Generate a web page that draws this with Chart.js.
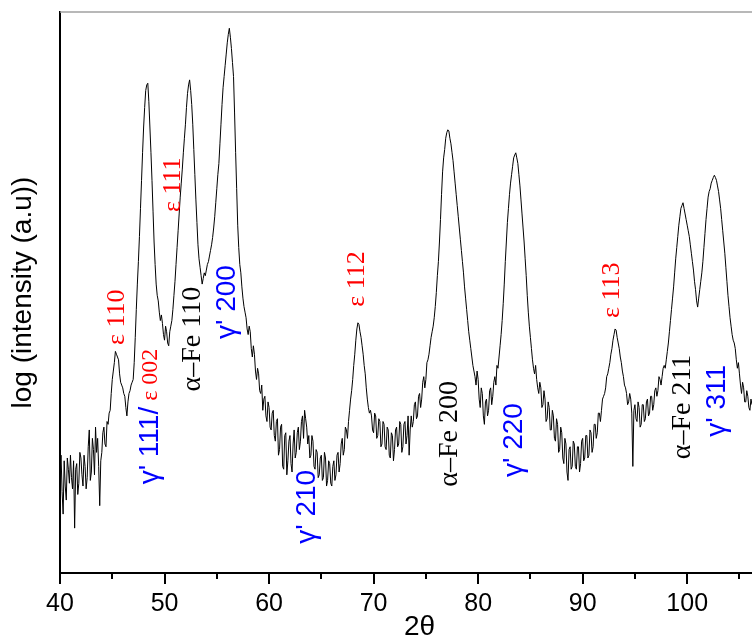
<!DOCTYPE html>
<html>
<head>
<meta charset="utf-8">
<script src="https://cdn.jsdelivr.net/npm/chart.js@4.4.0/dist/chart.umd.min.js"></script>
<style>
  html, body { margin: 0; padding: 0; background: #fff; }
  #wrap { width: 752px; height: 639px; }
</style>
</head>
<body>
<div id="wrap"><canvas id="myChart" width="752" height="639"></canvas></div>
<script>
// 2-theta scan, 40.0 .. 106.2 deg, 0.1 deg per point
var startAngle = 40;
var stepAngle = 0.1;

// log intensity (arbitrary units, 0..100 across the plot height)
// one row per degree
var intensity = [
  18.0, 21.0, 14.5, 10.5, 20.0, 15.5, 13.0, 20.5, 18.5, 16.0,   // 40
  21.0, 17.0, 15.0, 20.0, 8.0, 18.5, 19.5, 14.0, 16.0, 21.5,    // 41
  20.5, 17.5, 15.5, 21.0, 19.0, 15.0, 17.0, 22.5, 25.5, 16.5,   // 42
  18.0, 24.0, 22.0, 17.5, 26.0, 21.5, 24.0, 19.0, 12.0, 20.0,   // 43
  21.5, 25.0, 26.0, 23.0, 22.5, 27.0, 26.5, 28.5, 29.0, 32.0,   // 44
  34.5, 36.0, 37.5, 39.5, 39.0, 38.5, 38.0, 35.5, 34.0, 33.5,   // 45
  33.0, 32.0, 31.5, 29.5, 28.0, 30.5, 32.0, 32.5, 33.5, 34.0,   // 46
  34.5, 37.5, 42.0, 47.0, 51.5, 55.5, 60.0, 65.0, 70.0, 75.0,   // 47
  79.5, 83.0, 86.0, 87.0, 87.3, 84.0, 79.5, 75.0, 70.0, 64.5,   // 48
  59.0, 55.0, 51.5, 49.5, 48.5, 46.5, 45.0, 46.0, 44.5, 42.5,   // 49
  41.5, 44.0, 43.0, 41.0, 40.5, 43.0, 44.0, 45.0, 47.0, 49.5,   // 50
  52.0, 55.0, 58.0, 61.0, 64.0, 67.0, 69.5, 72.0, 74.9, 77.5,   // 51
  80.0, 83.0, 85.5, 87.0, 87.9, 86.0, 83.5, 80.0, 75.5, 71.0,   // 52
  66.5, 62.5, 58.5, 56.0, 54.5, 53.0, 51.5, 52.5, 53.5, 53.0,   // 53
  54.0, 55.0, 55.5, 56.5, 57.5, 58.5, 59.8, 61.5, 63.5, 66.0,   // 54
  68.5, 71.0, 73.0, 76.5, 80.0, 83.5, 86.5, 88.5, 90.5, 92.5,   // 55
  94.5, 96.0, 97.1, 95.5, 93.5, 91.0, 88.5, 82.0, 75.0, 68.5,   // 56
  62.0, 58.0, 55.0, 53.5, 51.0, 49.0, 47.5, 46.5, 45.5, 43.5,   // 57
  42.5, 44.0, 43.0, 40.0, 38.5, 40.5, 39.0, 36.0, 34.5, 36.5,   // 58
  35.5, 32.5, 32.0, 33.5, 29.0, 31.0, 31.5, 28.0, 27.0, 30.5,   // 59
  29.5, 26.0, 25.5, 28.5, 29.0, 24.5, 23.5, 27.0, 27.5, 21.0,   // 60
  22.0, 26.0, 26.5, 19.0, 18.5, 24.5, 25.0, 17.5, 20.0, 23.5,   // 61
  24.5, 19.5, 18.0, 23.0, 25.5, 20.5, 21.5, 25.0, 26.0, 22.0,   // 62
  23.5, 27.0, 28.0, 24.0, 29.0, 27.5, 26.0, 23.0, 24.5, 20.5,   // 63
  21.0, 24.5, 23.5, 19.0, 18.5, 22.0, 21.5, 17.0, 17.5, 20.5,   // 64
  21.0, 16.5, 17.0, 21.5, 20.5, 15.5, 16.5, 20.0, 19.5, 16.0,   // 65
  15.5, 19.0, 20.0, 16.5, 17.5, 21.0, 21.5, 18.0, 19.5, 23.0,   // 66
  24.0, 21.0, 22.0, 26.0, 25.5, 24.0, 27.0, 29.0, 31.0, 32.5,   // 67
  34.5, 37.0, 39.0, 41.5, 43.5, 44.6, 44.3, 43.0, 42.0, 40.5,   // 68
  39.0, 37.0, 35.5, 33.0, 31.0, 29.5, 28.5, 29.0, 28.0, 25.5,   // 69
  25.0, 28.5, 28.0, 24.0, 24.5, 27.5, 27.0, 22.5, 23.0, 27.0,   // 70
  26.5, 22.5, 22.0, 26.0, 25.5, 21.0, 20.5, 25.0, 24.5, 20.0,   // 71
  22.0, 25.5, 26.0, 22.5, 23.0, 27.0, 26.5, 21.5, 22.5, 26.5,   // 72
  27.0, 23.0, 24.5, 28.0, 21.0, 25.5, 28.0, 26.0, 27.0, 30.0,   // 73
  30.5, 27.5, 28.0, 31.5, 32.0, 29.5, 31.0, 34.0, 35.0, 33.0,   // 74
  34.5, 37.5, 38.0, 39.0, 40.5, 42.0, 43.0, 44.0, 45.5, 47.5,   // 75
  50.0, 53.0, 55.5, 59.0, 63.0, 67.5, 71.5, 74.0, 75.5, 77.5,   // 76
  78.5, 79.0, 78.8, 77.5, 76.5, 75.0, 73.5, 71.5, 69.5, 67.5,   // 77
  65.5, 63.5, 61.5, 59.5, 57.5, 55.5, 53.5, 51.0, 49.0, 47.0,   // 78
  45.0, 43.0, 41.5, 40.0, 38.5, 37.0, 36.0, 35.0, 33.5, 36.0,   // 79
  34.5, 31.0, 29.5, 33.0, 32.0, 28.0, 26.5, 30.5, 31.0, 28.0,   // 80
  29.0, 32.5, 33.0, 30.0, 31.5, 34.0, 35.0, 33.5, 37.0, 36.5,   // 81
  38.5, 40.5, 42.5, 45.0, 48.0, 51.5, 55.5, 59.0, 62.5, 65.0,   // 82
  67.5, 69.5, 71.0, 72.5, 74.0, 74.5, 74.9, 74.0, 73.0, 71.0,   // 83
  69.0, 66.5, 64.0, 61.5, 59.0, 56.0, 53.0, 49.5, 46.5, 44.0,   // 84
  42.0, 40.0, 38.0, 36.5, 35.5, 37.0, 34.5, 33.0, 32.0, 34.0,   // 85
  33.0, 29.5, 30.0, 32.5, 31.0, 27.0, 27.5, 30.5, 29.5, 25.5,   // 86
  25.5, 29.0, 28.0, 24.0, 23.5, 27.5, 26.5, 21.5, 22.0, 26.0,   // 87
  25.0, 20.5, 19.5, 24.0, 23.0, 18.0, 16.5, 22.0, 22.5, 18.5,   // 88
  19.0, 23.5, 23.0, 19.0, 18.5, 22.5, 22.5, 18.0, 19.5, 23.5,   // 89
  24.0, 20.0, 20.5, 24.5, 24.5, 20.5, 21.0, 25.5, 25.0, 21.5,   // 90
  22.5, 26.5, 26.5, 24.0, 25.0, 28.5, 28.5, 27.0, 29.0, 31.0,   // 91
  31.5, 32.0, 33.0, 35.0, 35.5, 36.5, 37.5, 39.0, 40.0, 41.5,   // 92
  42.5, 43.5, 43.3, 42.0, 41.0, 40.0, 38.5, 37.5, 36.0, 35.0,   // 93
  33.5, 33.0, 32.0, 30.0, 30.5, 32.0, 31.0, 28.5, 19.0, 29.0,   // 94
  30.0, 27.5, 27.0, 30.5, 29.5, 26.0, 26.5, 30.0, 30.0, 27.0,   // 95
  27.5, 30.5, 31.0, 28.0, 28.5, 31.5, 31.5, 29.0, 30.0, 32.5,   // 96
  33.0, 31.5, 32.5, 35.0, 34.5, 33.5, 35.0, 36.5, 37.0, 36.5,   // 97
  38.0, 39.5, 41.0, 43.0, 45.0, 47.0, 49.0, 51.0, 53.5, 56.0,   // 98
  58.0, 60.0, 62.0, 63.5, 65.0, 65.5, 66.0, 65.0, 64.0, 63.0,   // 99
  62.0, 61.0, 60.0, 58.5, 57.0, 55.5, 54.0, 52.0, 50.5, 48.5,   // 100
  47.4, 49.0, 50.5, 52.0, 53.5, 55.5, 58.0, 60.5, 63.0, 65.0,   // 101
  67.0, 68.0, 68.5, 69.5, 70.0, 70.5, 70.9, 70.5, 70.0, 69.0,   // 102
  68.0, 66.5, 65.0, 63.0, 61.0, 59.0, 57.0, 54.5, 52.0, 49.5,   // 103
  47.5, 45.5, 44.0, 42.5, 41.5, 41.0, 40.0, 38.0, 36.5, 37.5,   // 104
  35.5, 33.5, 32.0, 34.0, 33.0, 30.5, 30.5, 32.5, 31.5, 29.5,   // 105
  29.0, 31.0, 30.0                                              // 106
];

var twoTheta = intensity.map(function (v, i) {
  return +(startAngle + i * stepAngle).toFixed(1);
});

var xTickLabels = [40, 50, 60, 70, 80, 90, 100];
var xMinorTicks = [45, 55, 65, 75, 85, 95, 105];

// peak labels (anchored at their centre, in data units)
var RED = '#ff0000', BLUE = '#0000ff', BLACK = '#000000';
var serif26 = "26px 'Liberation Serif', 'Times New Roman', serif";
var serif28 = "28px 'Liberation Serif', 'Times New Roman', serif";
var serif24 = "24px 'Liberation Serif', 'Times New Roman', serif";
var sans28 = "28px 'Liberation Sans', Arial, sans-serif";
var peakLabels = [
  { x: 45.5,  y: 45.6, parts: [['\u03b5 110', RED, serif26]] },
  { x: 48.64, y: 27.9, parts: [['\u03b3\' 111/', BLUE, sans28], [' \u03b5 002', RED, serif24]] },
  { x: 50.84, y: 69.2, parts: [['\u03b5 111', RED, serif26]] },
  { x: 52.66, y: 41.7, parts: [['\u03b1\u2013Fe 110', BLACK, serif28]] },
  { x: 56.0,  y: 48.3, parts: [['\u03b3\' 200', BLUE, sans28]] },
  { x: 68.41, y: 52.4, parts: [['\u03b5 112', RED, serif26]] },
  { x: 63.64, y: 11.8, parts: [['\u03b3\' 210', BLUE, sans28]] },
  { x: 77.3,  y: 24.8, parts: [['\u03b1\u2013Fe 200', BLACK, serif28]] },
  { x: 83.5,  y: 23.7, parts: [['\u03b3\' 220', BLUE, sans28]] },
  { x: 92.86, y: 50.4, parts: [['\u03b5 113', RED, serif26]] },
  { x: 99.55, y: 29.6, parts: [['\u03b1\u2013Fe 211', BLACK, serif28]] },
  { x: 102.9, y: 30.7, parts: [['\u03b3\' 311', BLUE, sans28]] }
];

var decorPlugin = {
  id: 'decor',
  afterDraw: function (chart) {
    var ctx = chart.ctx, area = chart.chartArea;
    var xs = chart.scales.x, ys = chart.scales.y;
    ctx.save();

    // thin grey frame line on top
    ctx.strokeStyle = '#a0a0a0';
    ctx.lineWidth = 1.5;
    ctx.beginPath();
    ctx.moveTo(area.left, area.top);
    ctx.lineTo(area.right, area.top);
    ctx.stroke();

    // minor ticks
    ctx.strokeStyle = '#000';
    ctx.lineWidth = 2;
    xMinorTicks.forEach(function (v) {
      var px = Math.round(xs.getPixelForValue(v));
      ctx.beginPath();
      ctx.moveTo(px, area.bottom);
      ctx.lineTo(px, area.bottom + 6);
      ctx.stroke();
    });

    // x title, centred on the original (wider) plot
    ctx.fillStyle = '#000';
    ctx.font = "28px 'Liberation Sans', Arial, sans-serif";
    ctx.textAlign = 'center';
    ctx.textBaseline = 'middle';
    ctx.fillText('2\u03b8', xs.getPixelForValue(74.4), 627);

    // rotated peak labels
    ctx.textAlign = 'left';
    peakLabels.forEach(function (lab) {
      var total = 0;
      lab.parts.forEach(function (p) { ctx.font = p[2]; total += ctx.measureText(p[0]).width; });
      ctx.save();
      ctx.translate(xs.getPixelForValue(lab.x), ys.getPixelForValue(lab.y));
      ctx.rotate(-Math.PI / 2);
      var pos = -total / 2;
      lab.parts.forEach(function (p) {
        ctx.font = p[2];
        ctx.fillStyle = p[1];
        ctx.fillText(p[0], pos, 0);
        pos += ctx.measureText(p[0]).width;
      });
      ctx.restore();
    });
    ctx.restore();
  }
};

var ctx = document.getElementById('myChart');
var myChart = new Chart(ctx, {
  type: 'line',
  data: {
    datasets: [{
      data: twoTheta.map(function (t, i) { return { x: t, y: intensity[i] }; }),
      borderColor: '#000',
      borderWidth: 1,
      pointRadius: 0,
      tension: 0,
      fill: false
    }]
  },
  options: {
    responsive: false,
    animation: false,
    devicePixelRatio: 1,
    layout: { padding: { top: 12, right: 0, left: 0, bottom: 0 } },
    plugins: {
      legend: { display: false },
      tooltip: { enabled: false }
    },
    scales: {
      x: {
        type: 'linear',
        min: 40,
        max: 106.2,
        afterBuildTicks: function (s) {
          s.ticks = xTickLabels.map(function (v) { return { value: v }; });
        },
        afterFit: function (s) { s.height = 66; },
        ticks: {
          color: '#000',
          font: { family: "'Liberation Sans', Arial, sans-serif", size: 25 },
          padding: 5,
          maxRotation: 0,
          autoSkip: false
        },
        grid: {
          drawOnChartArea: false,
          color: '#000',
          lineWidth: 2,
          tickLength: 11
        },
        border: { color: '#000', width: 2 }
      },
      y: {
        min: 0,
        max: 100,
        afterFit: function (s) { s.width = 60; },
        ticks: { display: false },
        grid: { display: false },
        border: { color: '#000', width: 2 },
        title: {
          display: true,
          text: 'log (intensity (a.u))',
          color: '#000',
          font: { family: "'Liberation Sans', Arial, sans-serif", size: 28 },
          padding: { top: 6, bottom: 0 }
        }
      }
    }
  },
  plugins: [decorPlugin]
});
</script>
</body>
</html>
